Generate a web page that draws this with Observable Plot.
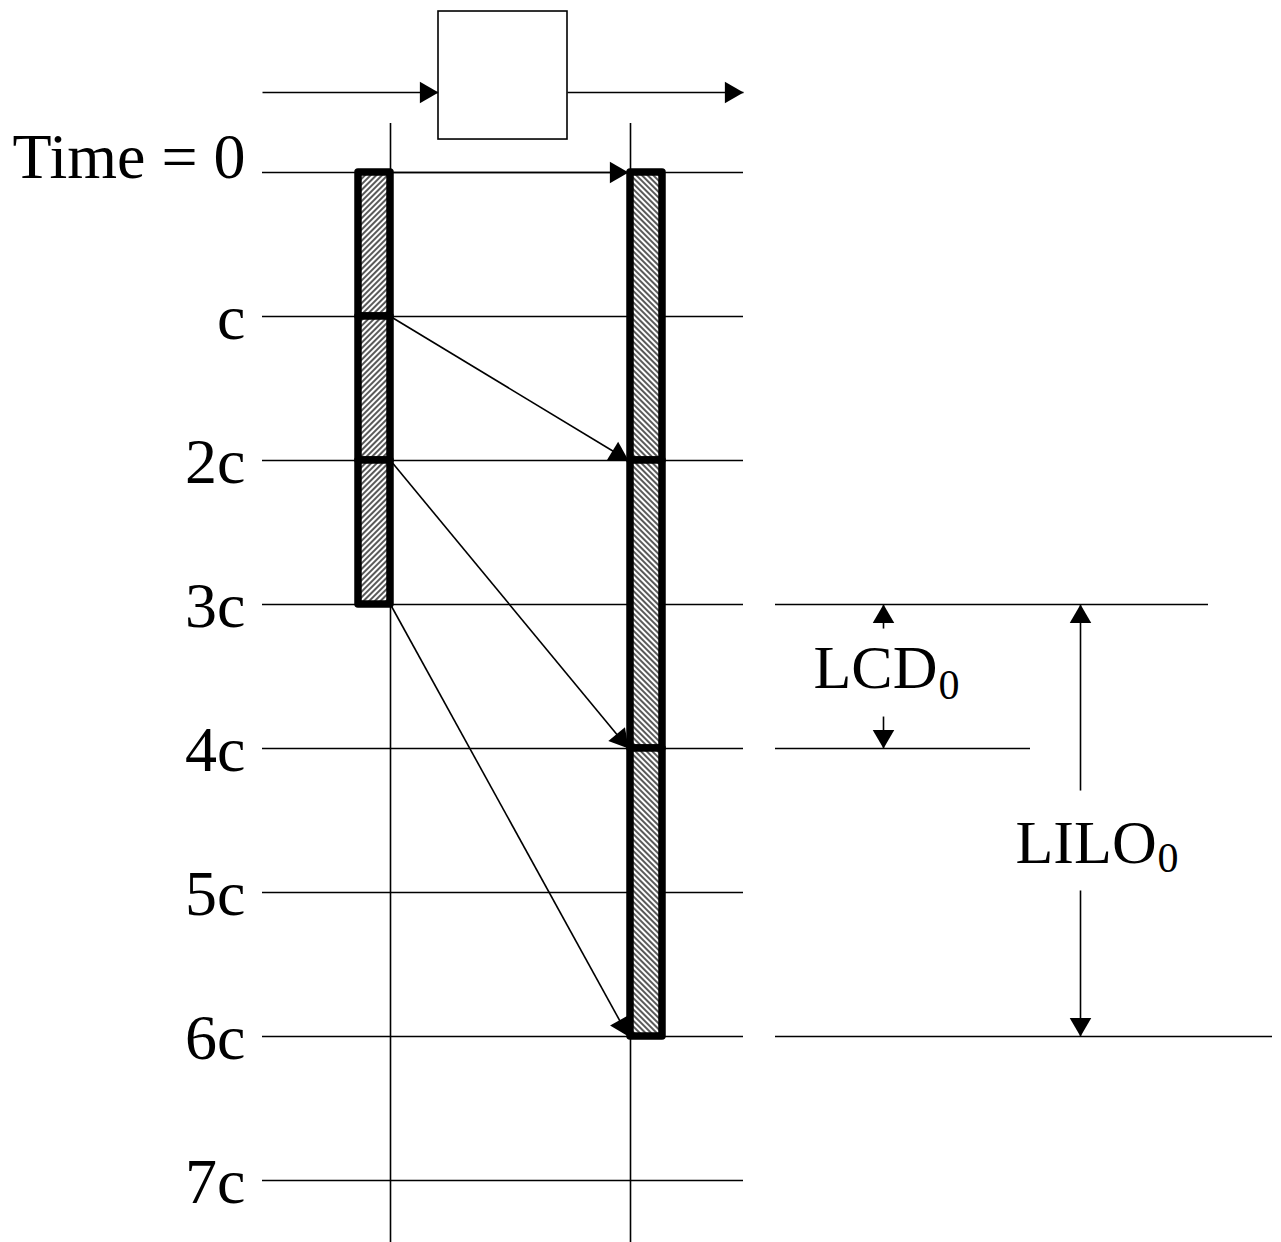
<!DOCTYPE html>
<html>
<head>
<meta charset="utf-8">
<script src="https://cdn.jsdelivr.net/npm/d3@7"></script>
<script src="https://cdn.jsdelivr.net/npm/@observablehq/plot@0.6"></script>
<style>
  html, body { margin: 0; padding: 0; background: white; }
</style>
</head>
<body>
<div id="chart"></div>
<script>
// ---- data (time in units of c) ----
const timeValues = [0, 1, 2, 3, 4, 5, 6, 7];
const timeLabels = ["Time = 0", "c", "2c", "3c", "4c", "5c", "6c", "7c"];
const sentStart = [0, 1, 2];
const sentEnd = [1, 2, 3];
const recvStart = [0, 2, 4];
const recvEnd = [2, 4, 6];
const sendTimes = [0, 1, 2, 3];
const arriveTimes = [0, 2, 4, 6];
const extTimes = [3, 4, 6];          // gridlines extended to the right
const lcdSpan = [3, 4];              // LCD0 interval
const liloSpan = [3, 6];             // LILO0 interval

// ---- layout (horizontal positions in px-like units, vertical in c) ----
const L = {
  gridX1: 262, gridX2: 743, sender: 390, receiver: 630, barW: 32,
  labelX: 245, extX1: 775, extX2: [1208, 1030, 1272],
  boxX1: 438, boxX2: 567, boxT1: -1.118, boxT2: -0.229, flowT: -0.556,
  vTop: -0.34, vBottom: 7.45,
  lcdX: 883, liloX: 1080, pxPerC: 144
};

const sent = sentStart.map((s, i) => ({start: s, end: sentEnd[i]}));
const recv = recvStart.map((s, i) => ({start: s, end: recvEnd[i]}));
const transfers = sendTimes.map((s, i) => ({x1: L.sender, t1: s, x2: L.receiver - 2, t2: arriveTimes[i]}));
const ext = extTimes.map((t, i) => ({t, x2: L.extX2[i]}));

// dimension arrows (start, tip)
const dimArrows = [
  {x1: L.lcdX, t1: 3.167, x2: L.lcdX, t2: lcdSpan[0]},
  {x1: L.lcdX, t1: 3.778, x2: L.lcdX, t2: lcdSpan[1]},
  {x1: L.liloX, t1: 4.292, x2: L.liloX, t2: liloSpan[0]},
  {x1: L.liloX, t1: 4.986, x2: L.liloX, t2: liloSpan[1]}
];
const flowArrows = [
  {x1: L.gridX1, t1: L.flowT, x2: L.boxX1, t2: L.flowT},
  {x1: L.boxX2, t1: L.flowT, x2: L.gridX2, t2: L.flowT}
];

function head(a) {
  const dx = a.x2 - a.x1, dy = (a.t2 - a.t1) * L.pxPerC;
  const len = Math.hypot(dx, dy), ux = dx / len, uy = dy / len;
  const back = 12.4;
  return {x: a.x2 - ux * back, t: a.t2 - uy * back / L.pxPerC, rotate: Math.atan2(ux, -uy) * 180 / Math.PI};
}
const heads = [...transfers, ...dimArrows, ...flowArrows].map(head);

const serif = "Liberation Serif, Times New Roman, serif";
const thin = 1.6;

const svg = Plot.plot({
  width: 1281,
  height: 1242,
  margin: 0,
  x: {domain: [0, 1281], range: [0, 1281], axis: null},
  y: {domain: [-172 / 144, 1070 / 144], range: [0, 1242], axis: null},
  marks: [
    // time gridlines
    Plot.ruleY(timeValues, {y: d => d, x1: L.gridX1, x2: L.gridX2, stroke: "black", strokeWidth: thin}),
    Plot.ruleY(ext, {y: "t", x1: L.extX1, x2: "x2", stroke: "black", strokeWidth: thin}),
    // sender / receiver timelines
    Plot.ruleX([L.sender, L.receiver], {x: d => d, y1: L.vTop, y2: L.vBottom, stroke: "black", strokeWidth: thin}),
    // flow through the box
    Plot.link(flowArrows, {x1: "x1", y1: "t1", x2: "x2", y2: "t2", stroke: "black", strokeWidth: thin}),
    Plot.rect([0], {x1: L.boxX1, x2: L.boxX2, y1: L.boxT1, y2: L.boxT2, fill: "white", stroke: "black", strokeWidth: thin}),
    // transfer arrows
    Plot.link(transfers, {x1: "x1", y1: "t1", x2: "x2", y2: "t2", stroke: "black", strokeWidth: thin}),
    // packets
    Plot.rect(sent, {x1: L.sender - L.barW, x2: L.sender, y1: "start", y2: "end",
      fill: "url(#hatchL)", stroke: "black", strokeWidth: 7.5, strokeLinejoin: "round"}),
    Plot.rect(recv, {x1: L.receiver, x2: L.receiver + L.barW, y1: "start", y2: "end",
      fill: "url(#hatchR)", stroke: "black", strokeWidth: 7.5, strokeLinejoin: "round"}),
    // dimension arrows
    Plot.link(dimArrows, {x1: "x1", y1: "t1", x2: "x2", y2: "t2", stroke: "black", strokeWidth: thin}),
    // arrowheads
    Plot.dot(heads, {x: "x", y: "t", rotate: "rotate", symbol: "triangle", r: 8, fill: "black", stroke: "none"}),
    // time labels
    Plot.text(timeValues.slice(0, 1), {x: L.labelX, y: d => d, text: [timeLabels[0]], textAnchor: "end",
      lineAnchor: "bottom", dy: 5, fontSize: 64, fontFamily: serif, fill: "black"}),
    Plot.text(timeValues.slice(1), {x: L.labelX, y: d => d, text: timeLabels.slice(1), textAnchor: "end",
      lineAnchor: "bottom", dy: 22, fontSize: 64, fontFamily: serif, fill: "black"}),
    // LCD0 / LILO0
    Plot.text(["LCD", "LILO"], {x: [813, 1015], y: [3.583, 4.792], text: d => d, textAnchor: "start",
      lineAnchor: "bottom", fontSize: 62, fontFamily: serif, fill: "black"}),
    Plot.text(["0", "0"], {x: [938, 1157], y: [3.653, 4.861], text: d => d, textAnchor: "start",
      lineAnchor: "bottom", fontSize: 42, fontFamily: serif, fill: "black"})
  ]
});

// hatch patterns
const defs = d3.select(svg).insert("defs", ":first-child");
[["hatchL", 45], ["hatchR", -45]].forEach(([id, angle]) => {
  const p = defs.append("pattern").attr("id", id).attr("patternUnits", "userSpaceOnUse")
    .attr("width", 4).attr("height", 4).attr("patternTransform", `rotate(${angle})`);
  p.append("rect").attr("width", 4).attr("height", 4).attr("fill", "white");
  p.append("line").attr("x1", 2).attr("x2", 2).attr("y1", 0).attr("y2", 4)
    .attr("stroke", "black").attr("stroke-width", 1.3);
});

document.getElementById("chart").appendChild(svg);
</script>
</body>
</html>
